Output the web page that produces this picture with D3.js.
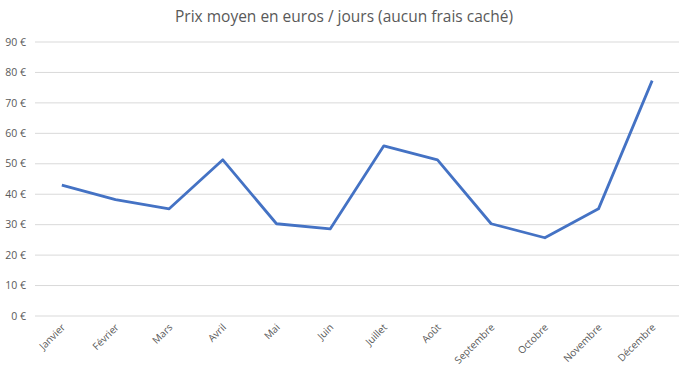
<!DOCTYPE html>
<html lang="fr">
<head>
<meta charset="UTF-8">
<title>Prix moyen</title>
<script src="https://d3js.org/d3.v7.min.js"></script>
<style>
  body { margin: 0; background: #fff; }
  text { font-family: "Open Sans", "Noto Sans", sans-serif; fill: #595959; }
</style>
</head>
<body>
<script>
// data
const months = ["Janvier", "Février", "Mars", "Avril", "Mai", "Juin", "Juillet", "Août", "Septembre", "Octobre", "Novembre", "Décembre"];
const prices = [43, 38.2, 35.2, 51.3, 30.3, 28.6, 55.9, 51.3, 30.3, 25.7, 35.2, 77.3];
const yTicks = [0, 10, 20, 30, 40, 50, 60, 70, 80, 90];

const width = 688, height = 376;
const margin = {top: 42, right: 9, bottom: 60, left: 35};

const svg = d3.select("body").append("svg")
  .attr("width", width)
  .attr("height", height);

const x = d3.scaleBand().domain(months).range([margin.left, width - margin.right]);
const y = d3.scaleLinear().domain([0, 90]).range([height - margin.bottom, margin.top]);

// gridlines
svg.append("g")
  .selectAll("line")
  .data(yTicks)
  .join("line")
  .attr("x1", margin.left).attr("x2", width - margin.right)
  .attr("y1", d => y(d)).attr("y2", d => y(d))
  .attr("stroke", "#d9d9d9").attr("stroke-width", 1);

// y labels
svg.append("g")
  .selectAll("text")
  .data(yTicks)
  .join("text")
  .attr("x", 26)
  .attr("y", d => y(d))
  .attr("dy", "0.35em")
  .attr("text-anchor", "end")
  .attr("font-size", 10.5)
  .text(d => d + " €");

// x labels
svg.append("g")
  .selectAll("text")
  .data(months)
  .join("text")
  .attr("transform", d => "translate(" + (x(d) + x.bandwidth() / 2 + 4) + "," + (y(0) + 12) + ") rotate(-45)")
  .attr("text-anchor", "end")
  .attr("font-size", 10)
  .text(d => d);

// line
const line = d3.line()
  .x((d, i) => x(months[i]) + x.bandwidth() / 2)
  .y(d => y(d));

svg.append("path")
  .datum(prices)
  .attr("fill", "none")
  .attr("stroke", "#4472c4")
  .attr("stroke-width", 2.8)
  .attr("stroke-linejoin", "round")
  .attr("d", line);

// title
svg.append("text")
  .attr("x", width / 2)
  .attr("y", 22)
  .attr("text-anchor", "middle")
  .attr("font-size", 15.5)
  .text("Prix moyen en euros / jours (aucun frais caché)");
</script>
</body>
</html>
